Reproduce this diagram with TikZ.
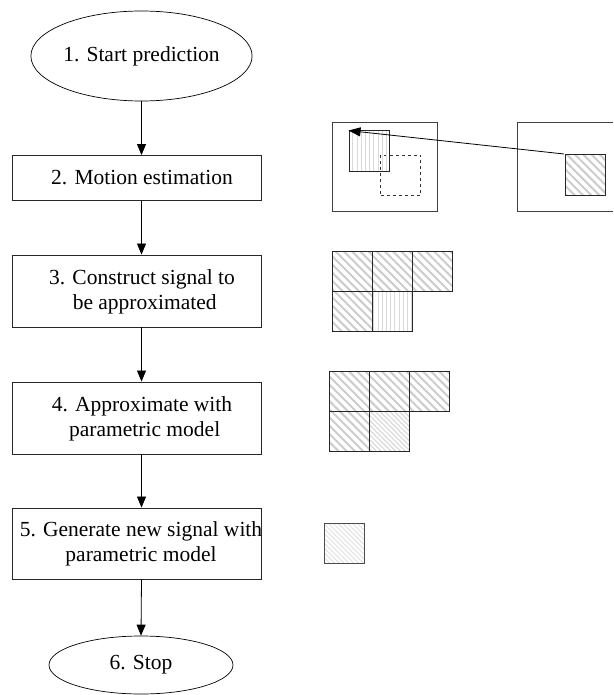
\documentclass[tikz,border=0pt]{standalone}
\usepackage{fontspec}
\setmainfont{Liberation Serif}
\usetikzlibrary{shapes.geometric,arrows.meta,patterns.meta}

\tikzset{
  flowtext/.style={font=\fontsize{21.5}{25.5}\selectfont, align=center, inner sep=0pt},
  procbox/.style={draw=black!85, line width=0.9pt, rectangle, inner sep=0pt,
    minimum width=249pt},
  termnode/.style={draw=black, line width=0.7pt, ellipse, inner sep=0pt, flowtext},
  flowarrow/.style={draw=black, line width=0.8pt, -{Triangle[length=11pt,width=9pt]}},
  frame/.style={draw=black!75, line width=1pt},
  blk/.style={draw=black!85, line width=1pt, rectangle, inner sep=0pt, minimum size=40pt},
  diaghatch/.style={pattern={Lines[angle=-45, distance=5.8pt, line width=2pt]}, pattern color=black!20},
  finehatch/.style={pattern={Lines[angle=-45, distance=3.4pt, line width=1.2pt]}, pattern color=black!15},
  palehatch/.style={pattern={Lines[angle=-45, distance=3.4pt, line width=1.2pt]}, pattern color=black!10},
  verthatch/.style={pattern={Lines[angle=90, distance=4.2pt, line width=0.9pt]}, pattern color=black!15},
}

\begin{document}
\begin{tikzpicture}[x=1pt, y=-1pt]
\useasboundingbox (0,0) rectangle (613,695);

% ---- flowchart: boxes, with their texts centred on the flow axis ----
\node[termnode, minimum width=203pt, minimum height=90pt] (start) at (141.5,56) {1. Start prediction};
\node[procbox, minimum height=45pt] (me) at (136.5,178) {};
\node[procbox, minimum height=72pt] (cs) at (136.5,291) {};
\node[procbox, minimum height=72pt] (ap) at (136.5,418) {};
\node[procbox, minimum height=71pt] (gen) at (136.5,543.5) {};
\node[termnode, minimum width=184pt, minimum height=58pt] (stop) at (141,665) {6. Stop};

\node[flowtext] (me-text) at (142,178) {2. Motion estimation};
\node[flowtext] (cs-text) at (142,292) {3. Construct signal to\\ \ be approximated};
\node[flowtext] (ap-text) at (142,419) {4. Approximate with\\ \ parametric model};
\node[flowtext] (gen-text) at (141,544) {5. Generate new signal with\\ parametric model};

\draw[flowarrow] (start.south) -- (start.south |- me.north);
\draw[flowarrow] (start.south |- me.south) -- (start.south |- cs.north);
\draw[flowarrow] (start.south |- cs.south) -- (start.south |- ap.north);
\draw[flowarrow] (start.south |- ap.south) -- (start.south |- gen.north);
\draw[flowarrow] (start.south |- gen.south) -- (stop.north);

% ---- motion estimation: current and reference frames ----
\draw[frame] (332,123) rectangle (437,211);
\draw[frame] (613,123) -- (517,123) -- (517,211) -- (613,211);
\node[blk, dashed, draw=black!80, line width=0.9pt] (search) at (400.5,175) {};
\node[blk, verthatch] (match) at (369,151) {};
\node[blk, diaghatch] (cand) at (585,175) {};
\draw[line width=0.8pt, -{Triangle[length=12pt,width=9pt]}] (cand.north west) -- (match.north west);

% ---- signal to be approximated ----
\node[blk, diaghatch] (s1) at (352,271) {};
\node[blk, diaghatch] (s2) at (392,271) {};
\node[blk, diaghatch] (s3) at (432,271) {};
\node[blk, diaghatch] (s4) at (352,311) {};
\node[blk, verthatch] (s5) at (392,311) {};

% ---- approximated signal ----
\node[blk, diaghatch] (a1) at (349,391) {};
\node[blk, diaghatch] (a2) at (389,391) {};
\node[blk, diaghatch] (a3) at (429,391) {};
\node[blk, diaghatch] (a4) at (349,431) {};
\node[blk, finehatch] (a5) at (389,431) {};

% ---- generated signal ----
\node[blk, palehatch, draw=black!70] (g1) at (344,543) {};
\end{tikzpicture}
\end{document}
